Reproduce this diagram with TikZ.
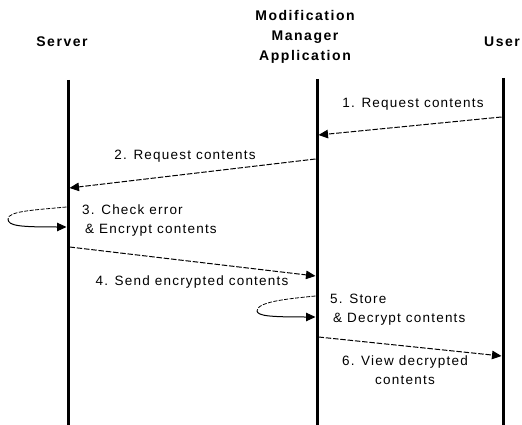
\documentclass[tikz,border=0pt]{standalone}
\usepackage{fontspec}
\setmainfont{Liberation Sans}[LetterSpace=9]
\usetikzlibrary{arrows.meta}
\begin{document}
\begin{tikzpicture}[x=1pt,y=-1pt,
  lifeline/.style={line width=3pt},
  msg/.style={line width=1pt, dash pattern=on 5.5pt off 1.8pt,
    -{Triangle[length=9.5pt,width=8.5pt]}},
  loopdash/.style={line width=0.8pt, dash pattern=on 4pt off 1.5pt},
  loopback/.style={line width=1pt, -{Triangle[length=9.5pt,width=8.5pt]}},
  head/.style={inner sep=0pt, font=\fontsize{14}{20}\selectfont\bfseries\addfontfeature{LetterSpace=11}, align=center},
  lbl/.style={inner sep=0pt, font=\fontsize{13.5}{19}\selectfont},
  lbll/.style={lbl, anchor=west, align=left},
]
\useasboundingbox (0,0) rectangle (522,425);

% participants
\node[head] (srv) at (62,42) {Server};
\node[head] (mma) at (305,37) {Modification\\Manager\\Application};
\node[head] (usr) at (502,42) {User};

% lifelines
\coordinate (srvTop) at (68,80);   \coordinate (srvBot) at (68,425);
\coordinate (mmaTop) at (317,79);  \coordinate (mmaBot) at (317,425);
\coordinate (usrTop) at (503,78);  \coordinate (usrBot) at (503,425);
\draw[lifeline] (srvTop) -- (srvBot);
\draw[lifeline] (mmaTop) -- (mmaBot);
\draw[lifeline] (usrTop) -- (usrBot);

% 1. user -> application
\coordinate (m1a) at (501.5,117); \coordinate (m1b) at (318.5,135);
\draw[msg] (m1a) -- (m1b);
\node[lbl] (l1) at (413,104) {1. Request contents};

% 2. application -> server
\coordinate (m2a) at (315.5,159); \coordinate (m2b) at (69.5,188);
\draw[msg] (m2a) -- (m2b);
\node[lbl] (l2) at (185,156) {2. Request contents};

% 3. server self call
\coordinate (s3a) at (66.5,207); \coordinate (s3l) at (8,219); \coordinate (s3b) at (66.5,227);
\draw[loopdash] (s3a) .. controls (35,210) and (8,211) .. (s3l);
\draw[loopback] (s3l) .. controls (8,226) and (20,227) .. (s3b);
\node[lbll] (l3) at (82,221) {3. Check error\\\hspace{3pt}\& Encrypt contents};

% 4. server -> application
\coordinate (m4a) at (69.5,247); \coordinate (m4b) at (315.5,276);
\draw[msg] (m4a) -- (m4b);
\node[lbl] (l4) at (192,282) {4. Send encrypted contents};

% 5. application self call
\coordinate (s5a) at (315.5,296); \coordinate (s5l) at (257,311); \coordinate (s5b) at (315.5,317);
\draw[loopdash] (s5a) .. controls (285,299) and (257,302) .. (s5l);
\draw[loopback] (s5l) .. controls (258,316) and (270,317) .. (s5b);
\node[lbll] (l5) at (330,310) {5. Store\\\hspace{3pt}\& Decrypt contents};

% 6. application -> user
\coordinate (m6a) at (318.5,337); \coordinate (m6b) at (501.5,356);
\draw[msg] (m6a) -- (m6b);
\node[lbl, align=center] (l6) at (405,370) {6. View decrypted\\contents};
\end{tikzpicture}
\end{document}
